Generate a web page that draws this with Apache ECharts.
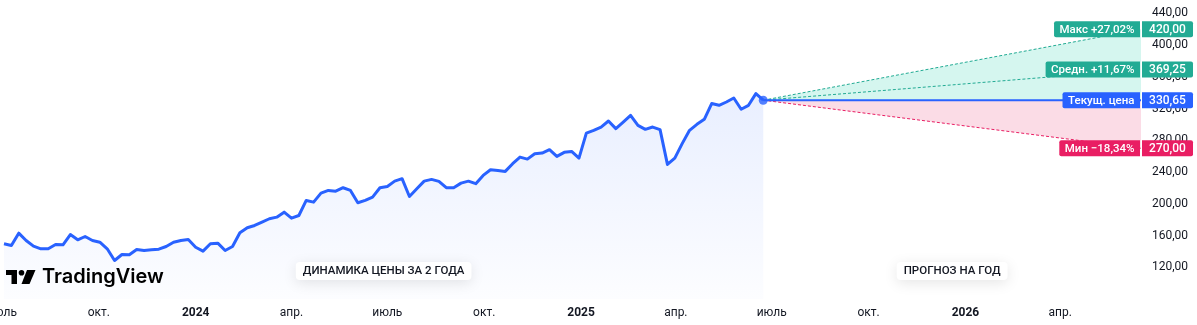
<!DOCTYPE html>
<html><head><meta charset="utf-8">
<script src="https://cdn.jsdelivr.net/npm/echarts@6/dist/echarts.min.js"></script>
<style>html,body{margin:0;padding:0;background:#fff}#main{width:1197px;height:325px}</style>
</head><body><div id="main"></div>
<script>
// ---------- data ----------
const startDate = Date.UTC(2023, 6, 3);          // first weekly bar
const WEEK = 7 * 24 * 3600 * 1000;
const prices = [
  149.6,147.4,163.0,153.8,146.6,143.3,143.3,148.7,148.3,161.3,
  154.6,158.8,153.8,151.6,143.3,128.5,136.1,135.7,142.4,141.1,
  142.0,142.8,146.2,151.6,153.8,155.0,145.3,140.3,149.6,150.4,
  141.1,146.2,163.5,169.8,172.7,176.9,181.2,183.2,189.5,181.9,
  185.3,204.3,202.1,213.5,216.9,216.0,220.3,216.9,201.4,204.3,
  208.4,220.3,221.9,228.6,231.7,209.3,219.0,228.6,230.8,228.3,
  220.3,220.3,226.1,228.6,225.4,235.8,243.0,242.1,240.9,250.6,
  258.9,256.4,263.2,264.0,268.3,259.8,264.9,266.1,257.7,289.2,
  292.7,296.8,304.4,294.8,303.1,311.6,299.0,293.9,296.8,293.5,
  249.7,257.7,275.9,292.7,300.2,306.5,326.4,324.2,328.4,333.4,
  319.2,324.2,339.0,330.65
];
const currentPrice = 330.65;
const forecastMax = 420.00;
const forecastAvg = 369.25;
const forecastMin = 270.00;
const forecastEnd = Date.UTC(2026, 5, 16, 16, 48);
const badgeNames = ['Макс +27,02%', 'Средн. +11,67%', 'Текущ. цена', 'Мин −18,34%'];
const badgeValues = [forecastMax, forecastAvg, currentPrice, forecastMin];
const yTicks = [120, 160, 200, 240, 280, 320, 360, 400, 440];
const xTickDates = [
  Date.UTC(2023,6,1), Date.UTC(2023,9,1), Date.UTC(2024,0,1), Date.UTC(2024,3,1),
  Date.UTC(2024,6,1), Date.UTC(2024,9,1), Date.UTC(2025,0,1), Date.UTC(2025,3,1),
  Date.UTC(2025,6,1), Date.UTC(2025,9,1), Date.UTC(2026,0,1), Date.UTC(2026,3,1)
];
const xTickLabels = ['июль','окт.','2024','апр.','июль','окт.','2025','апр.','июль','окт.','2026','апр.'];
const periodLabels = ['ДИНАМИКА ЦЕНЫ ЗА 2 ГОДА', 'ПРОГНОЗ НА ГОД'];
const logoText = 'TradingView';

// ---------- styling ----------
const BLUE = '#2962ff', GREEN = '#22ab94', RED = '#e91e63', TXT = '#131722';
const FONT = 'Roboto, "Noto Sans", sans-serif';
const history = prices.map((v, i) => [startDate + i * WEEK, v]);
const curDate = history[history.length - 1][0];
const xMin = Date.UTC(2023, 5, 29, 4, 48);
const xMax = forecastEnd;
const fmt = v => v.toFixed(2).replace('.', ',');

const chart = echarts.init(document.getElementById('main'), null, {renderer: 'canvas'});
const dashed = (color, end) => ({
  type: 'line', data: [[curDate, currentPrice], [forecastEnd, end]], symbol: 'none', silent: true,
  lineStyle: {color: color, width: 1, type: [3, 2]}, z: 4
});
chart.setOption({
  animation: false,
  backgroundColor: '#fff',
  grid: {left: 0, right: 56, top: 0, bottom: 26, outerBoundsMode: 'none', containLabel: false},
  xAxis: {
    type: 'value', min: xMin, max: xMax, scale: true,
    axisLine: {show: false}, axisTick: {show: false}, splitLine: {show: false},
    axisLabel: {
      customValues: xTickDates, margin: 8, color: TXT, fontSize: 12, fontFamily: FONT,
      formatter: v => {
        const i = xTickDates.indexOf(v);
        const t = i >= 0 ? xTickLabels[i] : '';
        return /^\d{4}$/.test(t) ? '{b|' + t + '}' : t;
      },
      rich: {b: {fontWeight: 'bold', fontSize: 12, color: TXT, fontFamily: FONT}}
    }
  },
  yAxis: {
    type: 'value', position: 'right', min: 80, max: 457, interval: 40,
    axisLine: {show: false}, axisTick: {show: false}, splitLine: {show: false},
    axisLabel: {customValues: yTicks, margin: 11, color: TXT, fontSize: 12, fontFamily: FONT, formatter: v => fmt(v)}
  },
  series: [
    {
      type: 'custom', silent: true, z: 1,
      data: [[curDate, currentPrice, forecastEnd, forecastMax], [curDate, currentPrice, forecastEnd, forecastMin]],
      encode: {x: [0, 2], y: [1, 3]},
      renderItem: (params, api) => {
        const a = api.coord([api.value(0), api.value(1)]);
        const b = api.coord([api.value(2), api.value(3)]);
        const c = api.coord([api.value(2), api.value(1)]);
        return {type: 'polygon', shape: {points: [a, b, c]},
          style: {fill: params.dataIndex === 0 ? '#d5f6ef' : '#fbdce6'}};
      }
    },
    dashed(GREEN, forecastMax),
    dashed(GREEN, forecastAvg),
    dashed(RED, forecastMin),
    {type: 'line', data: [[curDate, currentPrice], [forecastEnd, currentPrice]], symbol: 'none', silent: true, lineStyle: {color: BLUE, width: 2}, z: 5},
    {
      type: 'line', data: history, symbol: 'none', silent: true, z: 6,
      lineStyle: {color: BLUE, width: 3, join: 'round'},
      areaStyle: {color: new echarts.graphic.LinearGradient(0, 0, 0, 1, [
        {offset: 0, color: 'rgba(41,98,255,0.15)'}, {offset: 1, color: 'rgba(41,98,255,0.02)'}])}
    },
    {type: 'scatter', data: [[curDate, currentPrice]], symbolSize: 9, itemStyle: {color: BLUE}, silent: true, z: 7}
  ]
});

// ---------- overlays placed through the chart's own scales ----------
const ctx = document.createElement('canvas').getContext('2d');
const measure = (t, f) => { ctx.font = f; return ctx.measureText(t).width; };
const colors = [GREEN, GREEN, BLUE, RED];
const plotRight = chart.convertToPixel({gridIndex: 0}, [xMax, 100])[0];
const g = [];
badgeValues.forEach((v, i) => {
  const y = chart.convertToPixel({yAxisIndex: 0}, v);
  g.push({type: 'rect', z: 100, shape: {x: plotRight + 1, y: y - 8, width: 51, height: 16, r: [0, 2, 2, 0]}, style: {fill: colors[i]}});
  g.push({type: 'text', z: 101, x: plotRight + 26.5, y: y + 0.5, style: {text: fmt(v), fill: '#fff', font: '500 12px ' + FONT, align: 'center', verticalAlign: 'middle'}});
  const f = '500 11.5px ' + FONT;
  const w = measure(badgeNames[i], f) + 11;
  g.push({type: 'rect', z: 100, shape: {x: plotRight - 1 - w, y: y - 8, width: w, height: 16, r: [2, 0, 0, 2]}, style: {fill: colors[i]}});
  g.push({type: 'text', z: 101, x: plotRight - 1 - w / 2, y: y + 0.5, style: {text: badgeNames[i], fill: '#fff', font: f, align: 'center', verticalAlign: 'middle'}});
});
const x0 = chart.convertToPixel({gridIndex: 0}, [startDate, 100])[0];
const xc = chart.convertToPixel({gridIndex: 0}, [curDate, 100])[0];
const centers = [(x0 + xc) / 2, (xc + plotRight) / 2];
periodLabels.forEach((t, i) => {
  const f = '500 11.5px ' + FONT;
  const w = measure(t, f) + 14;
  g.push({type: 'rect', z: 100, shape: {x: centers[i] - w / 2, y: 262, width: w, height: 18, r: 4},
    style: {fill: '#fff', shadowBlur: 14, shadowColor: 'rgba(0,0,0,0.10)', shadowOffsetY: 3}});
  g.push({type: 'text', z: 101, x: centers[i], y: 271.5, style: {text: t, fill: TXT, font: f, align: 'center', verticalAlign: 'middle'}});
});
// TradingView logo
g.push({type: 'rect', z: 100, shape: {x: 6, y: 270, width: 11, height: 5}, style: {fill: '#000'}});
g.push({type: 'rect', z: 100, shape: {x: 11.5, y: 270, width: 5.5, height: 14}, style: {fill: '#000'}});
g.push({type: 'circle', z: 100, shape: {cx: 21.5, cy: 272.8, r: 2.8}, style: {fill: '#000'}});
g.push({type: 'polygon', z: 100, shape: {points: [[27, 270], [35.5, 270], [29.5, 284], [21.5, 284]]}, style: {fill: '#000'}});
g.push({type: 'text', z: 100, x: 42, y: 277, style: {text: logoText, fill: '#000', font: '600 20px Inter, ' + FONT, align: 'left', verticalAlign: 'middle'}});
chart.setOption({graphic: {elements: g}});
</script>
</body></html>
